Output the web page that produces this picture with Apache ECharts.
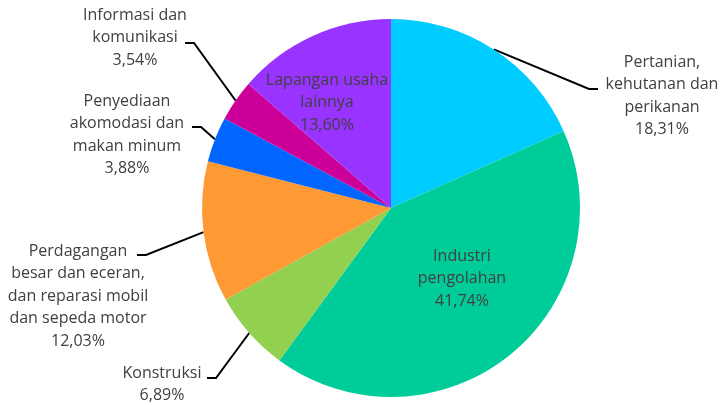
<!DOCTYPE html>
<html>
<head>
<meta charset="utf-8">
<script src="https://cdn.jsdelivr.net/npm/echarts@6/dist/echarts.min.js"></script>
<style>html,body{margin:0;padding:0;background:#fff}#c{width:725px;height:405px}</style>
</head>
<body>
<div id="c"></div>
<script>
const categories = [
  'Pertanian,\nkehutanan dan\nperikanan',
  'Industri\npengolahan',
  'Konstruksi',
  'Perdagangan\nbesar dan eceran,\ndan reparasi mobil\ndan sepeda motor',
  'Penyediaan\nakomodasi dan\nmakan minum',
  'Informasi dan\nkomunikasi',
  'Lapangan usaha\nlainnya'
];
const values = [18.31, 41.74, 6.89, 12.03, 3.88, 3.54, 13.60];
const colors = ['#00CCFF', '#00CC99', '#92D050', '#FF9933', '#0066FF', '#CC0099', '#9933FF'];

// label layout (text anchor: centre x, top y) and leader-line end points
const labelPos = [[662,51],[462,245],[162,362],[78,240],[127,90],[135,4],[327,69]];
const lineEnd = [[598,89],null,[207,378],[137,255],[192,127],[185,43],null];

const CX = 391, CY = 208, R = 189;

const data = categories.map((n, i) => ({
  name: n,
  value: values[i],
  itemStyle: { color: colors[i] },
  labelLine: { show: lineEnd[i] !== null }
}));

const chart = echarts.init(document.getElementById('c'));
chart.setOption({
  animation: false,
  series: [{
    type: 'pie',
    center: [CX, CY],
    radius: R,
    startAngle: 90,
    clockwise: true,
    avoidLabelOverlap: false,
    data: data,
    itemStyle: { borderWidth: 0 },
    label: {
      show: true,
      position: 'outside',
      fontFamily: 'Open Sans',
      fontSize: 16,
      lineHeight: 22.5,
      color: '#404040',
      align: 'center',
      formatter: p => p.name + '\n' + p.value.toFixed(2).replace('.', ',') + '%'
    },
    labelLine: { show: true, lineStyle: { color: '#000', width: 2 } },
    labelLayout: function (p) {
      const i = p.dataIndex;
      const out = { x: labelPos[i][0], y: labelPos[i][1], align: 'center', verticalAlign: 'top' };
      const e = lineEnd[i];
      if (e) {
        let start;
        if (p.labelLinePoints && p.labelLinePoints[0]) {
          start = p.labelLinePoints[0];
        } else {
          let before = 0; for (let k = 0; k < i; k++) before += values[k];
          const total = values.reduce((a, b) => a + b, 0);
          const ang = (before + values[i] / 2) / total * 2 * Math.PI;
          start = [CX + R * Math.sin(ang), CY - R * Math.cos(ang)];
        }
        const dir = e[0] > CX ? -1 : 1;
        out.labelLinePoints = [start, [e[0] + dir * 9, e[1]], e];
      }
      return out;
    }
  }]
});
</script>
</body>
</html>
